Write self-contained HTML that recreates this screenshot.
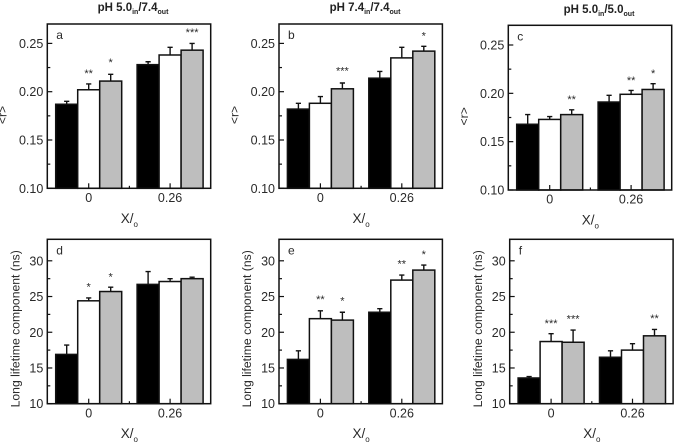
<!DOCTYPE html>
<html>
<head>
<meta charset="utf-8">
<title>Anisotropy and long lifetime bar charts</title>
<style>
html,body{margin:0;padding:0;background:#fff;}
svg{display:block;font-family:"Liberation Sans",sans-serif;fill:#2a2a2a;filter:blur(0.35px);}
</style>
</head>
<body>
<svg id="figure" width="675" height="446" viewBox="0 0 675 446" xmlns="http://www.w3.org/2000/svg"></svg>
<script>
// Shared tick and category data
const groupLabels = ["0", "0.26"];
const rTicks = [0.10, 0.15, 0.20, 0.25];
const rTickLabels = ["0.10", "0.15", "0.20", "0.25"];
const rMinorTicks = [0.125, 0.175, 0.225];
const lifeTicks = [10, 15, 20, 25, 30];
const lifeTickLabels = ["10", "15", "20", "25", "30"];
const lifeMinorTicks = [12.5, 17.5, 22.5, 27.5];
const seriesFills = ["#000000", "#ffffff", "#bebebe"];

// Panel a: each series is [X=0, X=0.26]
const aBlack = [0.187, 0.228], aWhite = [0.202, 0.238], aGray = [0.211, 0.243];
const aBlackTop = [0.190, 0.231], aWhiteTop = [0.208, 0.246], aGrayTop = [0.218, 0.250];

// Panel b
const bBlack = [0.182, 0.214], bWhite = [0.188, 0.235], bGray = [0.203, 0.242];
const bBlackTop = [0.188, 0.221], bWhiteTop = [0.195, 0.246], bGrayTop = [0.209, 0.247];

// Panel c
const cBlack = [0.168, 0.191], cWhite = [0.173, 0.199], cGray = [0.178, 0.204];
const cBlackTop = [0.178, 0.198], cWhiteTop = [0.176, 0.203], cGrayTop = [0.183, 0.210];

// Panel d
const dBlack = [16.9, 26.7], dWhite = [24.4, 27.1], dGray = [25.7, 27.5];
const dBlackTop = [18.2, 28.5], dWhiteTop = [24.8, 27.5], dGrayTop = [26.3, 27.7];

// Panel e
const eBlack = [16.2, 22.8], eWhite = [21.9, 27.3], eGray = [21.7, 28.7];
const eBlackTop = [17.4, 23.3], eWhiteTop = [23.0, 28.0], eGrayTop = [22.8, 29.4];

// Panel f
const fBlack = [13.6, 16.5], fWhite = [18.7, 17.5], fGray = [18.6, 19.5];
const fBlackTop = [13.8, 17.4], fWhiteTop = [19.8, 18.4], fGrayTop = [20.3, 20.4];

// Significance annotations: [group, series, marker, level in data units]
const aMarks = [[0, 1, "**", 0.2214], [0, 2, "*", 0.2328], [1, 2, "***", 0.2639]];
const bMarks = [[0, 2, "***", 0.2242], [1, 2, "*", 0.2604]];
const cMarks = [[0, 2, "**", 0.1963], [1, 1, "**", 0.2159], [1, 2, "*", 0.2232]];
const dMarks = [[0, 1, "*", 26.7], [0, 2, "*", 28.1]];
const eMarks = [[0, 1, "**", 24.9], [0, 2, "*", 24.7], [1, 1, "**", 29.9], [1, 2, "*", 31.2]];
const fMarks = [[0, 1, "***", 21.6], [0, 2, "***", 22.2], [1, 2, "**", 22.3]];

const rAxis = {kind: "r", min: 0.10, max: 0.25, ticks: rTicks, labels: rTickLabels, minor: rMinorTicks, title: "<r>"};
const lifeAxis = {kind: "life", min: 10, max: 30, ticks: lifeTicks, labels: lifeTickLabels, minor: lifeMinorTicks, title: "Long lifetime component (ns)"};

const panels = [
  {id: "a", axis: rAxis, left: 47.3, top: 24, bottom: 188.3, maxPx: 43.4, titleX: 6.5, series: [aBlack, aWhite, aGray], tops: [aBlackTop, aWhiteTop, aGrayTop], marks: aMarks},
  {id: "b", axis: rAxis, left: 279, top: 24, bottom: 188.3, maxPx: 43.4, titleX: 238.5, series: [bBlack, bWhite, bGray], tops: [bBlackTop, bWhiteTop, bGrayTop], marks: bMarks},
  {id: "c", axis: rAxis, left: 508.3, top: 25.3, bottom: 190, maxPx: 45, titleX: 468, series: [cBlack, cWhite, cGray], tops: [cBlackTop, cWhiteTop, cGrayTop], marks: cMarks},
  {id: "d", axis: lifeAxis, left: 47.3, top: 239.3, bottom: 403.7, maxPx: 260.8, titleX: 19.5, series: [dBlack, dWhite, dGray], tops: [dBlackTop, dWhiteTop, dGrayTop], marks: dMarks},
  {id: "e", axis: lifeAxis, left: 279, top: 239.3, bottom: 403.7, maxPx: 260.8, titleX: 251, series: [eBlack, eWhite, eGray], tops: [eBlackTop, eWhiteTop, eGrayTop], marks: eMarks},
  {id: "f", axis: lifeAxis, left: 509.7, top: 239.3, bottom: 403.7, maxPx: 260.8, titleX: 482, series: [fBlack, fWhite, fGray], tops: [fBlackTop, fWhiteTop, fGrayTop], marks: fMarks}
];

const headers = [
  {x: 133, y: 11, a: "pH 5.0", sub1: "in", b: "/7.4", sub2: "out"},
  {x: 365, y: 11, a: "pH 7.4", sub1: "in", b: "/7.4", sub2: "out"},
  {x: 599, y: 13, a: "pH 5.0", sub1: "in", b: "/5.0", sub2: "out"}
];

const svg = document.getElementById("figure");
const NS = "http://www.w3.org/2000/svg";

function make(parent, tag, props) {
  const el = document.createElementNS(NS, tag);
  for (const k in props) el.setAttribute(k, props[k]);
  parent.appendChild(el);
  return el;
}

const FRAME_W = 163.4;
const BAR_W = 22;
const FIRST_BAR = 8.4;
const SECOND_GROUP = 81.4;

headers.forEach(function (h) {
  const t = make(svg, "text", {x: h.x, y: h.y, "text-anchor": "middle", "font-size": "11.5", "font-weight": "bold", fill: "#222"});
  
  
  t.appendChild(document.createTextNode(h.a));
  const s1 = make(t, "tspan", {dy: "3", "font-size": "7"});
  s1.textContent = h.sub1;
  const m = make(t, "tspan", {dy: "-3"});
  m.textContent = h.b;
  const s2 = make(t, "tspan", {dy: "3", "font-size": "7"});
  s2.textContent = h.sub2;
});

panels.forEach(function (p) {
  const g = make(svg, "g", {});
  
  

  const yScale = function (v) {
    return p.bottom - (v - p.axis.min) / (p.axis.max - p.axis.min) * (p.bottom - p.maxPx);
  };
  const barX = function (group, series) {
    return p.left + FIRST_BAR + group * SECOND_GROUP + series * BAR_W;
  };
  const centerOfGroup = function (group) {
    return barX(group, 1) + BAR_W / 2;
  };

  // Bars with error bars
  p.series.forEach(function (vals, si) {
    vals.forEach(function (v, gi) {
      const cx = barX(gi, si) + BAR_W / 2;
      const topY = yScale(p.tops[si][gi]);
      const err = make(g, "path", {
        d: "M" + cx + " " + yScale(v) + "V" + topY + "M" + (cx - 2.6) + " " + topY + "H" + (cx + 2.6),
        fill: "none", stroke: "#111", "stroke-width": "1.4"
      });
      
      
      const bar = make(g, "rect", {
        x: barX(gi, si), y: yScale(v), width: BAR_W, height: p.bottom - yScale(v),
        fill: seriesFills[si], stroke: "#111", "stroke-width": "1.5"
      });
      
      
    });
  });

  // Frame
  const frame = make(g, "rect", {x: p.left, y: p.top, width: FRAME_W, height: p.bottom - p.top, fill: "none", stroke: "#111", "stroke-width": "1.5"});
  
  

  // Y ticks
  p.axis.ticks.forEach(function (v, i) {
    const y = yScale(v);
    const tick = make(g, "line", {x1: p.left, x2: p.left + 5, y1: y, y2: y, stroke: "#111", "stroke-width": "1.2"});
    
    
    const lab = make(g, "text", {x: p.left - 4, y: y + 4.5, "text-anchor": "end", "font-size": "12.5"});
    
    
    lab.textContent = p.axis.labels[i];
  });
  p.axis.minor.forEach(function (v) {
    const y = yScale(v);
    const tick = make(g, "line", {x1: p.left, x2: p.left + 3, y1: y, y2: y, stroke: "#111", "stroke-width": "1.2"});
    
    
  });

  // X ticks and labels
  groupLabels.forEach(function (label, gi) {
    const cx = centerOfGroup(gi);
    const tick = make(g, "line", {x1: cx, x2: cx, y1: p.bottom, y2: p.bottom - 5, stroke: "#111", "stroke-width": "1.2"});
    
    
    const lab = make(g, "text", {x: cx, y: p.bottom + 13.7, "text-anchor": "middle", "font-size": "12.5"});
    
    
    lab.textContent = label;
  });
  const midX = (centerOfGroup(0) + centerOfGroup(1)) / 2;
  const midTick = make(g, "line", {x1: midX, x2: midX, y1: p.bottom, y2: p.bottom - 2.5, stroke: "#111", "stroke-width": "1.2"});
  
  

  // X title
  const xt = make(g, "text", {x: midX, y: p.bottom + 34.5, "text-anchor": "middle", "font-size": "13.5"});
  
  
  xt.appendChild(document.createTextNode("X/"));
  const xs = make(xt, "tspan", {dy: "4", "font-size": "8"});
  xs.textContent = "o";

  // Y title
  const yMid = p.axis.kind === "r" ? p.top + 91 : p.top + 89.5;
  const yt = make(g, "text", {x: p.titleX, y: yMid, "text-anchor": "middle", "font-size": "12.2", transform: "rotate(-90 " + p.titleX + " " + yMid + ")"});
  
  
  yt.textContent = p.axis.title;

  // Panel letter
  const pl = make(g, "text", {x: p.left + 9, y: p.top + 15, "font-size": "12"});
  
  
  pl.textContent = p.id;

  // Significance marks
  p.marks.forEach(function (m) {
    const mx = barX(m[0], m[1]) + BAR_W / 2;
    const star = make(g, "text", {x: mx, y: yScale(m[3]) + 6, "text-anchor": "middle", "font-size": "11"});
    
    
    star.textContent = m[2];
  });
});
</script>
</body>
</html>
